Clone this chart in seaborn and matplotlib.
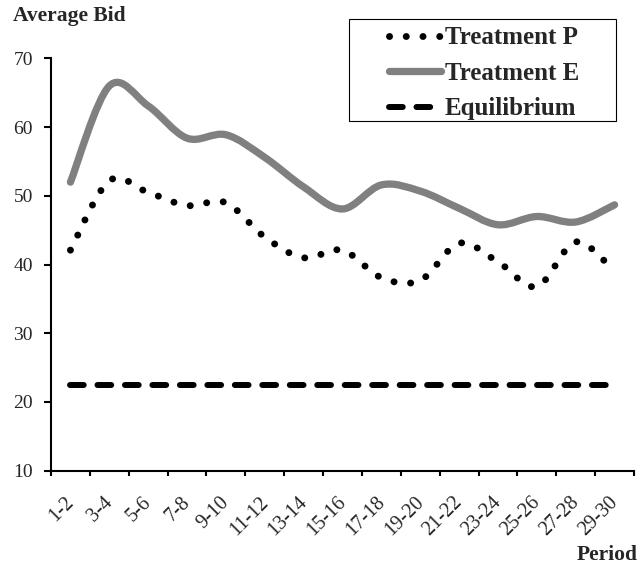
import numpy as np
import matplotlib
matplotlib.use('Agg')
import matplotlib.pyplot as plt
from matplotlib.path import Path
from matplotlib.patches import PathPatch, Rectangle
from matplotlib.lines import Line2D
from matplotlib.transforms import ScaledTranslation
import seaborn as sns

periods = ['1-2', '3-4', '5-6', '7-8', '9-10', '11-12', '13-14', '15-16',
           '17-18', '19-20', '21-22', '23-24', '25-26', '27-28', '29-30']
treatment_p = [42.1, 52.2, 50.5, 48.6, 49.0, 44.0, 41.0, 42.1,
               38.1, 37.7, 43.1, 40.4, 36.8, 43.3, 39.0]
treatment_e = [52.0, 66.0, 63.1, 58.4, 58.9, 55.6, 51.3, 48.1,
               51.6, 50.7, 48.2, 45.8, 47.0, 46.2, 48.7]
equilibrium = [22.5, 22.5, 22.5, 22.5, 22.5, 22.5, 22.5, 22.5,
               22.5, 22.5, 22.5, 22.5, 22.5, 22.5, 22.5]

sns.set_theme(style='white')
plt.rcParams['font.family'] = ['Liberation Serif', 'DejaVu Serif']


def smooth_path(y):
    # excel style smoothed line: cubic bezier through every point
    n = len(y)
    pts = np.column_stack([np.arange(n), y]).astype(float)
    verts = [pts[0]]
    codes = [Path.MOVETO]
    for i in range(n - 1):
        p0 = pts[max(i - 1, 0)]
        p1 = pts[i]
        p2 = pts[i + 1]
        p3 = pts[min(i + 2, n - 1)]
        verts += [p1 + (p2 - p0) / 6, p2 - (p3 - p1) / 6, p2]
        codes += [Path.CURVE4] * 3
    return Path(verts, codes)


W, H = 641, 569
fig = plt.figure(figsize=(W / 100, H / 100), dpi=100)
ax = fig.add_axes([51 / W, 1 - 470.7 / H, (634 - 51) / W, (470.7 - 58.5) / H])

x = np.arange(len(periods))
sns.lineplot(x=x, y=equilibrium, ax=ax, color='black', lw=4.3,
             linestyle=(0, (2.3, 2.3)), dash_capstyle='round')

ax.add_patch(PathPatch(smooth_path(treatment_e), fill=False, edgecolor='#808080',
                       lw=5.25, capstyle='round', joinstyle='round'))
ax.add_patch(PathPatch(smooth_path(treatment_p), fill=False, edgecolor='black',
                       lw=5, linestyle=(0, (0.01, 2.4)), capstyle='round'))

ax.set_xlim(-0.5, 14.5)
ax.set_ylim(10, 70)
ax.set_yticks([10, 20, 30, 40, 50, 60, 70])
ax.set_xticks(x)
ax.set_xticks(np.arange(-0.5, 15, 1), minor=True)
ax.set_xticklabels(periods, rotation=45, ha='right', va='top',
                   rotation_mode='anchor', fontsize=14.5)
ax.tick_params(axis='x', which='major', length=0, pad=16)
ax.tick_params(axis='x', which='minor', length=3.5, width=1.5, color='black',
               direction='out', bottom=True)
ax.tick_params(axis='y', length=5, width=1.5, color='black', direction='out',
               left=True, labelsize=14, pad=8)
ax.set_xlabel('')
ax.set_ylabel('')
sns.despine(ax=ax)
for side in ['left', 'bottom']:
    ax.spines[side].set_color('black')
    ax.spines[side].set_linewidth(1.5)

shift = ScaledTranslation(-6 / 100, 0, fig.dpi_scale_trans)
for lab in ax.get_xticklabels():
    lab.set_transform(lab.get_transform() + shift)

# legend box drawn separately, excel pads it wider than the entries
fig.add_artist(Rectangle((349 / W, 1 - 121 / H), (616 - 349) / W, (121 - 18.7) / H,
                         transform=fig.transFigure, fill=False,
                         edgecolor='black', lw=0.8))
handles = [
    Line2D([], [], color='black', lw=5, linestyle=(0, (0.01, 2.4)),
           dash_capstyle='round'),
    Line2D([], [], color='#808080', lw=5.25, solid_capstyle='round'),
    Line2D([], [], color='black', lw=4.3, linestyle=(0, (2.3, 2.3)),
           dash_capstyle='round'),
]
fig.legend(handles, ['Treatment P', 'Treatment E', 'Equilibrium'],
           loc='upper left', bbox_to_anchor=(376 / W, 1 - 14 / H),
           frameon=False, borderpad=0, handlelength=2.1, handletextpad=0.15,
           labelspacing=0.5, prop=dict(weight='bold', size=18))

fig.text(13 / W, 1 - 16 / H, 'Average Bid', ha='left', va='center',
         fontweight='bold', fontsize=15.5)
fig.text(638 / W, 1 - 555 / H, 'Period', ha='right', va='center',
         fontweight='bold', fontsize=15.5)

fig.savefig('out.png', dpi=100)
